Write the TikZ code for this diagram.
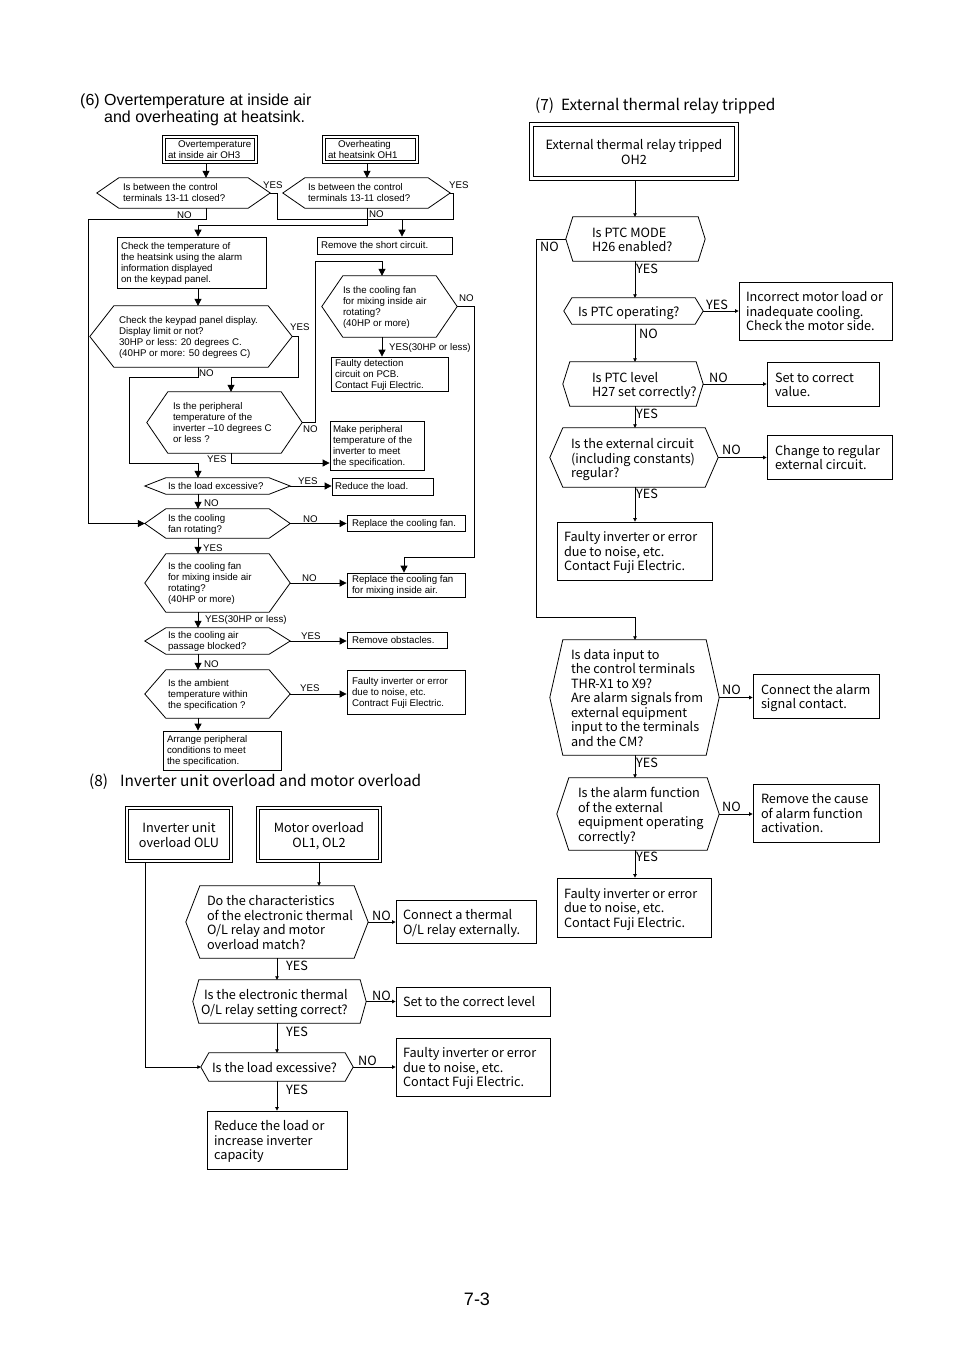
\documentclass[tikz,border=0pt]{standalone}
\usepackage{fontspec}
\setmainfont{Liberation Sans}
\newfontfamily\jpfont{Noto Sans CJK JP}
\usetikzlibrary{arrows.meta,calc}

\newcommand\fsix{\fontsize{9.7}{11}\selectfont}
\newcommand\fjp{\jpfont\fontsize{12.7}{14.5}\selectfont}
\newcommand\ftitle{\jpfont\fontsize{15.4}{17}\selectfont}

\tikzset{
  sixbox/.style={draw, line width=0.8pt, inner sep=0pt, font=\fsix},
  sixhex/.style={inner sep=0pt, font=\fsix},
  jpbox/.style={draw, line width=0.8pt, inner sep=0pt, font=\fjp},
  jphex/.style={inner sep=0pt, font=\fjp},
  dbl/.style={draw, double, double distance=2pt, line width=0.7pt, outer sep=1.7pt},
  dblw/.style={draw, double, double distance=3.5pt, line width=0.7pt, outer sep=2.45pt},
  a6/.style={line width=0.8pt, -{Triangle[length=7pt,width=7pt]}},
  l6/.style={line width=0.8pt},
  a7/.style={line width=0.8pt, -{Triangle[length=3.5pt,width=3.5pt]}},
  l7/.style={line width=0.8pt},
  lab6/.style={font=\fsix, inner sep=0pt, anchor=west},
  lab7/.style={font=\fjp, inner sep=0pt, anchor=west},
}

\newlength\Tdrop
\setlength\Tdrop{1pt}
% name, style, x1, y1, x2, y2, left pad, lines (left aligned)
\newcommand\bxl[8]{%
  \pgfmathsetmacro\Bw{#5-#3}\pgfmathsetmacro\Bh{#6-#4}%
  \pgfmathsetmacro\Bx{(#3+#5)/2}\pgfmathsetmacro\By{(#4+#6)/2}%
  \pgfmathsetmacro\Bt{#5-#3-2*#7}%
  \node[#2, minimum width=\Bw pt, minimum height=\Bh pt] (#1) at (\Bx,\By)
    {\raisebox{-\Tdrop}[\height][\depth]{\makebox[\Bt pt][l]{\begin{tabular}{@{}l@{}}#8\end{tabular}}}};}
% name, style, x1, y1, x2, y2, lines (centred)
\newcommand\bxc[7]{%
  \pgfmathsetmacro\Bw{#5-#3}\pgfmathsetmacro\Bh{#6-#4}%
  \pgfmathsetmacro\Bx{(#3+#5)/2}\pgfmathsetmacro\By{(#4+#6)/2}%
  \node[#2, minimum width=\Bw pt, minimum height=\Bh pt] (#1) at (\Bx,\By)
    {\raisebox{-\Tdrop}[\height][\depth]{\begin{tabular}{@{}c@{}}#7\end{tabular}}};}
% hexagon outline round a node: name, tip depth
\newcommand\hexd[2]{\draw[l6] (#1.west) -- ([xshift=#2pt]#1.north west) -- ([xshift=-#2pt]#1.north east) -- (#1.east) -- ([xshift=-#2pt]#1.south east) -- ([xshift=#2pt]#1.south west) -- cycle;}

\begin{document}
\begin{tikzpicture}[x=1pt,y=-1pt]
\useasboundingbox (0,0) rectangle (954,1350);
\fill[white] (0,0) rectangle (954,1350);

% helper coordinates
\coordinate (X88) at (88,0);   \coordinate (X129) at (129,0);
\coordinate (X198) at (198,0); \coordinate (X206) at (206,0);
\coordinate (X231) at (231,0); \coordinate (X277) at (277,0);
\coordinate (X298) at (298,0); \coordinate (X315) at (315,0);
\coordinate (X367) at (367,0); \coordinate (X382) at (382,0);
\coordinate (X402) at (402,0); \coordinate (X404) at (404,0);
\coordinate (X453) at (453,0); \coordinate (X474) at (474,0);
\coordinate (X536) at (536,0); \coordinate (X635) at (635,0);
\coordinate (X145) at (145,0); \coordinate (X319) at (319,0);
\coordinate (Y219) at (0,219); \coordinate (Y225) at (0,225);
\coordinate (Y261) at (0,261); \coordinate (Y377) at (0,377);
\coordinate (Y463) at (0,463); \coordinate (Y557) at (0,557);
\coordinate (Y617) at (0,617);

% ================= titles =================
\node[font=\fontsize{16}{17}\selectfont, anchor=west, align=left, inner sep=0pt] (t6) at (80,109.5)
  {(6) Overtemperature at inside air\\\hspace*{24pt}and overheating at heatsink.};
\node[font=\ftitle, anchor=west, inner sep=0pt] (t7) at (535,106)
  {(7)\hspace{7pt}External thermal relay tripped};
\node[font=\ftitle, anchor=west, inner sep=0pt] (t8) at (89,782)
  {(8)\hspace{12pt}Inverter unit overload and motor overload};
\node[font=\fontsize{18}{20}\selectfont, inner sep=0pt] (pg) at (477,1299) {7-3};

% ================= section 6 =================
\bxl{OH3}{sixbox,dbl}{164}{137}{256}{162}{4}{\hspace*{10pt}Overtemperature\\at inside air OH3}
\bxl{OH1}{sixbox,dbl}{324}{137}{417}{162}{4}{\hspace*{10pt}Overheating\\at heatsink OH1}
\bxl{D1}{sixhex}{97}{178}{270}{208}{26}{Is between the control\\terminals 13-11 closed?} \hexd{D1}{22}
\bxl{D2}{sixhex}{283}{178}{450}{208}{25}{Is between the control\\terminals 13-11 closed?} \hexd{D2}{22}
\bxl{RS}{sixbox}{317}{237}{452}{254}{4}{Remove the short circuit.}
\bxl{CT}{sixbox}{117}{237}{266}{288}{4}{Check the temperature of\\the heatsink using the alarm\\information displayed\\on the keypad panel.}
\bxl{KP}{sixhex}{90}{306}{292}{367}{29}{Check the keypad panel display.\\Display limit or not?\\30HP or less: 20 degrees C.\\(40HP or more: 50 degrees C)} \hexd{KP}{24}
\bxl{PH}{sixhex}{147}{392}{302}{453}{26}{Is the peripheral\\temperature of the\\inverter –10 degrees C\\or less ?} \hexd{PH}{21}
\bxl{MP}{sixbox}{330}{421}{424}{470}{3}{Make peripheral\\temperature of the\\inverter to meet\\the specification.}
\bxl{M1}{sixhex}{322}{276}{457}{337}{21}{Is the cooling fan\\for mixing inside air\\rotating?\\(40HP or more)} \hexd{M1}{21}
\bxl{FD}{sixbox}{331}{357}{448}{391}{4}{Faulty detection\\circuit on PCB.\\Contact Fuji Electric.}
\bxl{LD}{sixhex}{145}{478}{290}{494}{23}{Is the load excessive?} \hexd{LD}{21}
\bxl{RL}{sixbox}{332}{478}{433}{495}{3}{Reduce the load.}
\bxl{FN}{sixhex}{145}{509}{290}{538}{23}{Is the cooling\\fan rotating?} \hexd{FN}{21}
\bxl{RF}{sixbox}{347}{515}{465}{531}{5}{Replace the cooling fan.}
\bxl{M2}{sixhex}{145}{554}{290}{612}{23}{Is the cooling fan\\for mixing inside air\\rotating?\\(40HP or more)} \hexd{M2}{21}
\bxl{RM}{sixbox}{347}{573}{465}{597}{5}{Replace the cooling fan\\for mixing inside air.}
\bxl{AP}{sixhex}{145}{628}{290}{654}{23}{Is the cooling air\\passage blocked?} \hexd{AP}{21}
\bxl{RO}{sixbox}{347}{632}{447}{648}{5}{Remove obstacles.}
\bxl{AM}{sixhex}{145}{670}{290}{718}{23}{Is the ambient\\temperature within\\the specification ?} \hexd{AM}{21}
\bxl{FA}{sixbox}{347}{670}{465}{714}{5}{Faulty inverter or error\\due to noise, etc.\\Contract Fuji Electric.}
\bxl{AR}{sixbox}{163}{731}{281}{770}{4}{Arrange peripheral\\conditions to meet\\the specification.}

% connectors section 6
\draw[a6] (OH3.south -| X206) -- (D1.north -| X206);
\draw[a6] (OH1.south -| X367) -- (D2.north -| X367);
\draw[l6] (D1.east) -| (X277 |- Y219) -- (X453 |- Y219) |- (D2.east);
\draw[a6] (X402 |- Y219) -- (RS.north -| X402);
\draw[a6] (D1.south -| X206) |- (X88 |- Y219) |- (FN.west);
\draw[a6] (D2.south -| X367) |- (X198 |- Y225) -- (CT.north -| X198);
\draw[a6] (CT.south -| X198) -- (KP.north -| X198);
\draw[a6] (KP.east) -| (X298 |- Y377) -| (PH.north -| X231);
\draw[a6] (KP.south -| X198) |- (X129 |- Y377) |- (X198 |- Y463) -- (LD.north -| X198);
\draw[a6] (PH.south -| X231) |- (MP.west |- Y463);
\draw[a6] (PH.east) -| (X315 |- Y261) -| (M1.north -| X382);
\draw[a6] (M1.south -| X382) -- (FD.north -| X382);
\draw[a6] (M1.east) -| (X474 |- Y557) -| (RM.north -| X404);
\draw[a6] (LD.east) -- (LD.east -| RL.west);
\draw[a6] (LD.south -| X198) -- (FN.north -| X198);
\draw[a6] (FN.east) -- (FN.east -| RF.west);
\draw[a6] (FN.south -| X198) -- (M2.north -| X198);
\draw[a6] (M2.east) -- (M2.east -| RM.west);
\draw[a6] (M2.south -| X198) -- (AP.north -| X198);
\draw[a6] (AP.east) -- (AP.east -| RO.west);
\draw[a6] (AP.south -| X198) -- (AM.north -| X198);
\draw[a6] (AM.east) -- (AM.east -| FA.west);
\draw[a6] (AM.south -| X198) -- (AR.north -| X198);

% labels section 6
\node[lab6] (s6l1) at (263,185) {YES};
\node[lab6] (s6l2) at (449,185) {YES};
\node[lab6] (s6l3) at (177,215) {NO};
\node[lab6] (s6l4) at (369,214) {NO};
\node[lab6] (s6l5) at (290,327) {YES};
\node[lab6] (s6l6) at (199,373) {NO};
\node[lab6] (s6l7) at (303,429) {NO};
\node[lab6] (s6l8) at (207,459) {YES};
\node[lab6] (s6l9) at (459,298) {NO};
\node[lab6] (s6l10) at (389,348) {YES(30HP or less)};
\node[lab6] (s6l11) at (298,481) {YES};
\node[lab6] (s6l12) at (204,503) {NO};
\node[lab6] (s6l13) at (303,519) {NO};
\node[lab6] (s6l14) at (203,548) {YES};
\node[lab6] (s6l15) at (302,578) {NO};
\node[lab6] (s6l16) at (205,620) {YES(30HP or less)};
\node[lab6] (s6l17) at (301,636) {YES};
\node[lab6] (s6l18) at (204,664) {NO};
\node[lab6] (s6l19) at (300,688) {YES};

% ================= section 7 =================
\setlength\Tdrop{2.5pt}
\bxc{OH2}{jpbox,dblw}{531.5}{124.5}{736.5}{178.5}{External thermal relay tripped\\OH2}
\bxl{PM}{jphex}{566}{217}{705}{261}{26}{Is PTC MODE\\H26 enabled?} \hexd{PM}{7}
\bxl{PO}{jphex}{564}{298}{703}{324}{14}{Is PTC operating?} \hexd{PO}{8}
\bxl{IM}{jpbox}{739}{282}{892}{340}{7}{Incorrect motor load or\\inadequate cooling.\\Check the motor side.}
\bxl{PL}{jphex}{563}{362}{703}{406}{29}{Is PTC level\\H27 set correctly?} \hexd{PL}{7}
\bxl{SC}{jpbox}{767}{362}{879}{406}{8}{Set to correct\\value.}
\bxl{EC}{jphex}{550}{428}{718}{487}{21}{Is the external circuit\\(including constants)\\regular?} \hexd{EC}{13}
\bxl{CR}{jpbox}{767}{435}{892}{479}{8}{Change to regular\\external circuit.}
\bxl{F1}{jpbox}{557}{522}{712}{580}{7}{Faulty inverter or error\\due to noise, etc.\\Contact Fuji Electric.}
\bxl{DI}{jphex}{550}{640}{719}{755}{21}{Is data input to\\the control terminals\\THR-X1 to X9?\\Are alarm signals from\\external equipment\\input to the terminals\\and the CM?} \hexd{DI}{13}
\bxl{CA}{jpbox}{753}{674}{879}{718}{8}{Connect the alarm\\signal contact.}
\bxl{AL}{jphex}{557}{778}{719}{850}{21}{Is the alarm function\\of the external\\equipment operating\\correctly?} \hexd{AL}{12}
\bxl{RC}{jpbox}{753}{784}{879}{842}{8}{Remove the cause\\of alarm function\\activation.}
\bxl{F2}{jpbox}{557}{878}{711}{937}{7}{Faulty inverter or error\\due to noise, etc.\\Contact Fuji Electric.}

\draw[a7] (OH2.south -| X635) -- (PM.north -| X635);
\draw[a7] (PM.west) -| (X536 |- Y617) -| (DI.north -| X635);
\draw[a7] (PM.south -| X635) -- (PO.north -| X635);
\draw[a7] (PO.east) -- (PO.east -| IM.west);
\draw[a7] (PO.south -| X635) -- (PL.north -| X635);
\draw[a7] (PL.east) -- (PL.east -| SC.west);
\draw[a7] (PL.south -| X635) -- (EC.north -| X635);
\draw[a7] (EC.east) -- (EC.east -| CR.west);
\draw[a7] (EC.south -| X635) -- (F1.north -| X635);
\draw[a7] (DI.east) -- (DI.east -| CA.west);
\draw[a7] (DI.south -| X635) -- (AL.north -| X635);
\draw[a7] (AL.east) -- (AL.east -| RC.west);
\draw[a7] (AL.south -| X635) -- (F2.north -| X635);

\node[lab7] (s7l1) at (540,247) {NO};
\node[lab7] (s7l2) at (636,269) {YES};
\node[lab7] (s7l3) at (706,305) {YES};
\node[lab7] (s7l4) at (639,334) {NO};
\node[lab7] (s7l5) at (709,378) {NO};
\node[lab7] (s7l6) at (636,414) {YES};
\node[lab7] (s7l7) at (722,450) {NO};
\node[lab7] (s7l8) at (636,494) {YES};
\node[lab7] (s7l9) at (722,690) {NO};
\node[lab7] (s7l10) at (636,763) {YES};
\node[lab7] (s7l11) at (722,807) {NO};
\node[lab7] (s7l12) at (636,857) {YES};

% ================= section 8 =================
\bxc{OLU}{jpbox,dbl}{127}{808}{231}{861}{Inverter unit\\overload OLU}
\bxc{OL}{jpbox,dbl}{258}{808}{380}{861}{Motor overload\\OL1, OL2}
\bxl{CH}{jphex}{186}{886}{368}{958}{21}{Do the characteristics\\of the electronic thermal\\O/L relay and motor\\overload match?} \hexd{CH}{14}
\bxl{CX}{jpbox}{396}{900}{536}{943}{7}{Connect a thermal\\O/L relay externally.}
\bxl{ST}{jphex}{193}{980}{366}{1023}{8}{\hspace*{3pt}Is the electronic thermal\\O/L relay setting correct?} \hexd{ST}{6}
\bxl{SL}{jpbox}{396}{987}{550}{1016}{7}{Set to the correct level}
\bxl{LX}{jphex}{201}{1053}{353}{1081}{11}{Is the load excessive?} \hexd{LX}{8}
\bxl{FX}{jpbox}{396}{1038}{550}{1096}{7}{Faulty inverter or error\\due to noise, etc.\\Contact Fuji Electric.}
\bxl{RX}{jpbox}{207}{1111}{347}{1169}{7}{Reduce the load or\\increase inverter\\capacity}

\draw[a7] (OL.south -| X319) -- (CH.north -| X319);
\draw[a7] (CH.east) -- (CH.east -| CX.west);
\draw[a7] (CH.south -| X277) -- (ST.north -| X277);
\draw[a7] (ST.east) -- (ST.east -| SL.west);
\draw[a7] (ST.south -| X277) -- (LX.north -| X277);
\draw[a7] (LX.east) -- (LX.east -| FX.west);
\draw[a7] (LX.south -| X277) -- (RX.north -| X277);
\draw[a7] (OLU.south -| X145) |- (LX.west);

\node[lab7] (s8l1) at (372,916) {NO};
\node[lab7] (s8l2) at (286,966) {YES};
\node[lab7] (s8l3) at (372,996) {NO};
\node[lab7] (s8l4) at (286,1032) {YES};
\node[lab7] (s8l5) at (358,1061) {NO};
\node[lab7] (s8l6) at (286,1090) {YES};
\end{tikzpicture}
\end{document}
